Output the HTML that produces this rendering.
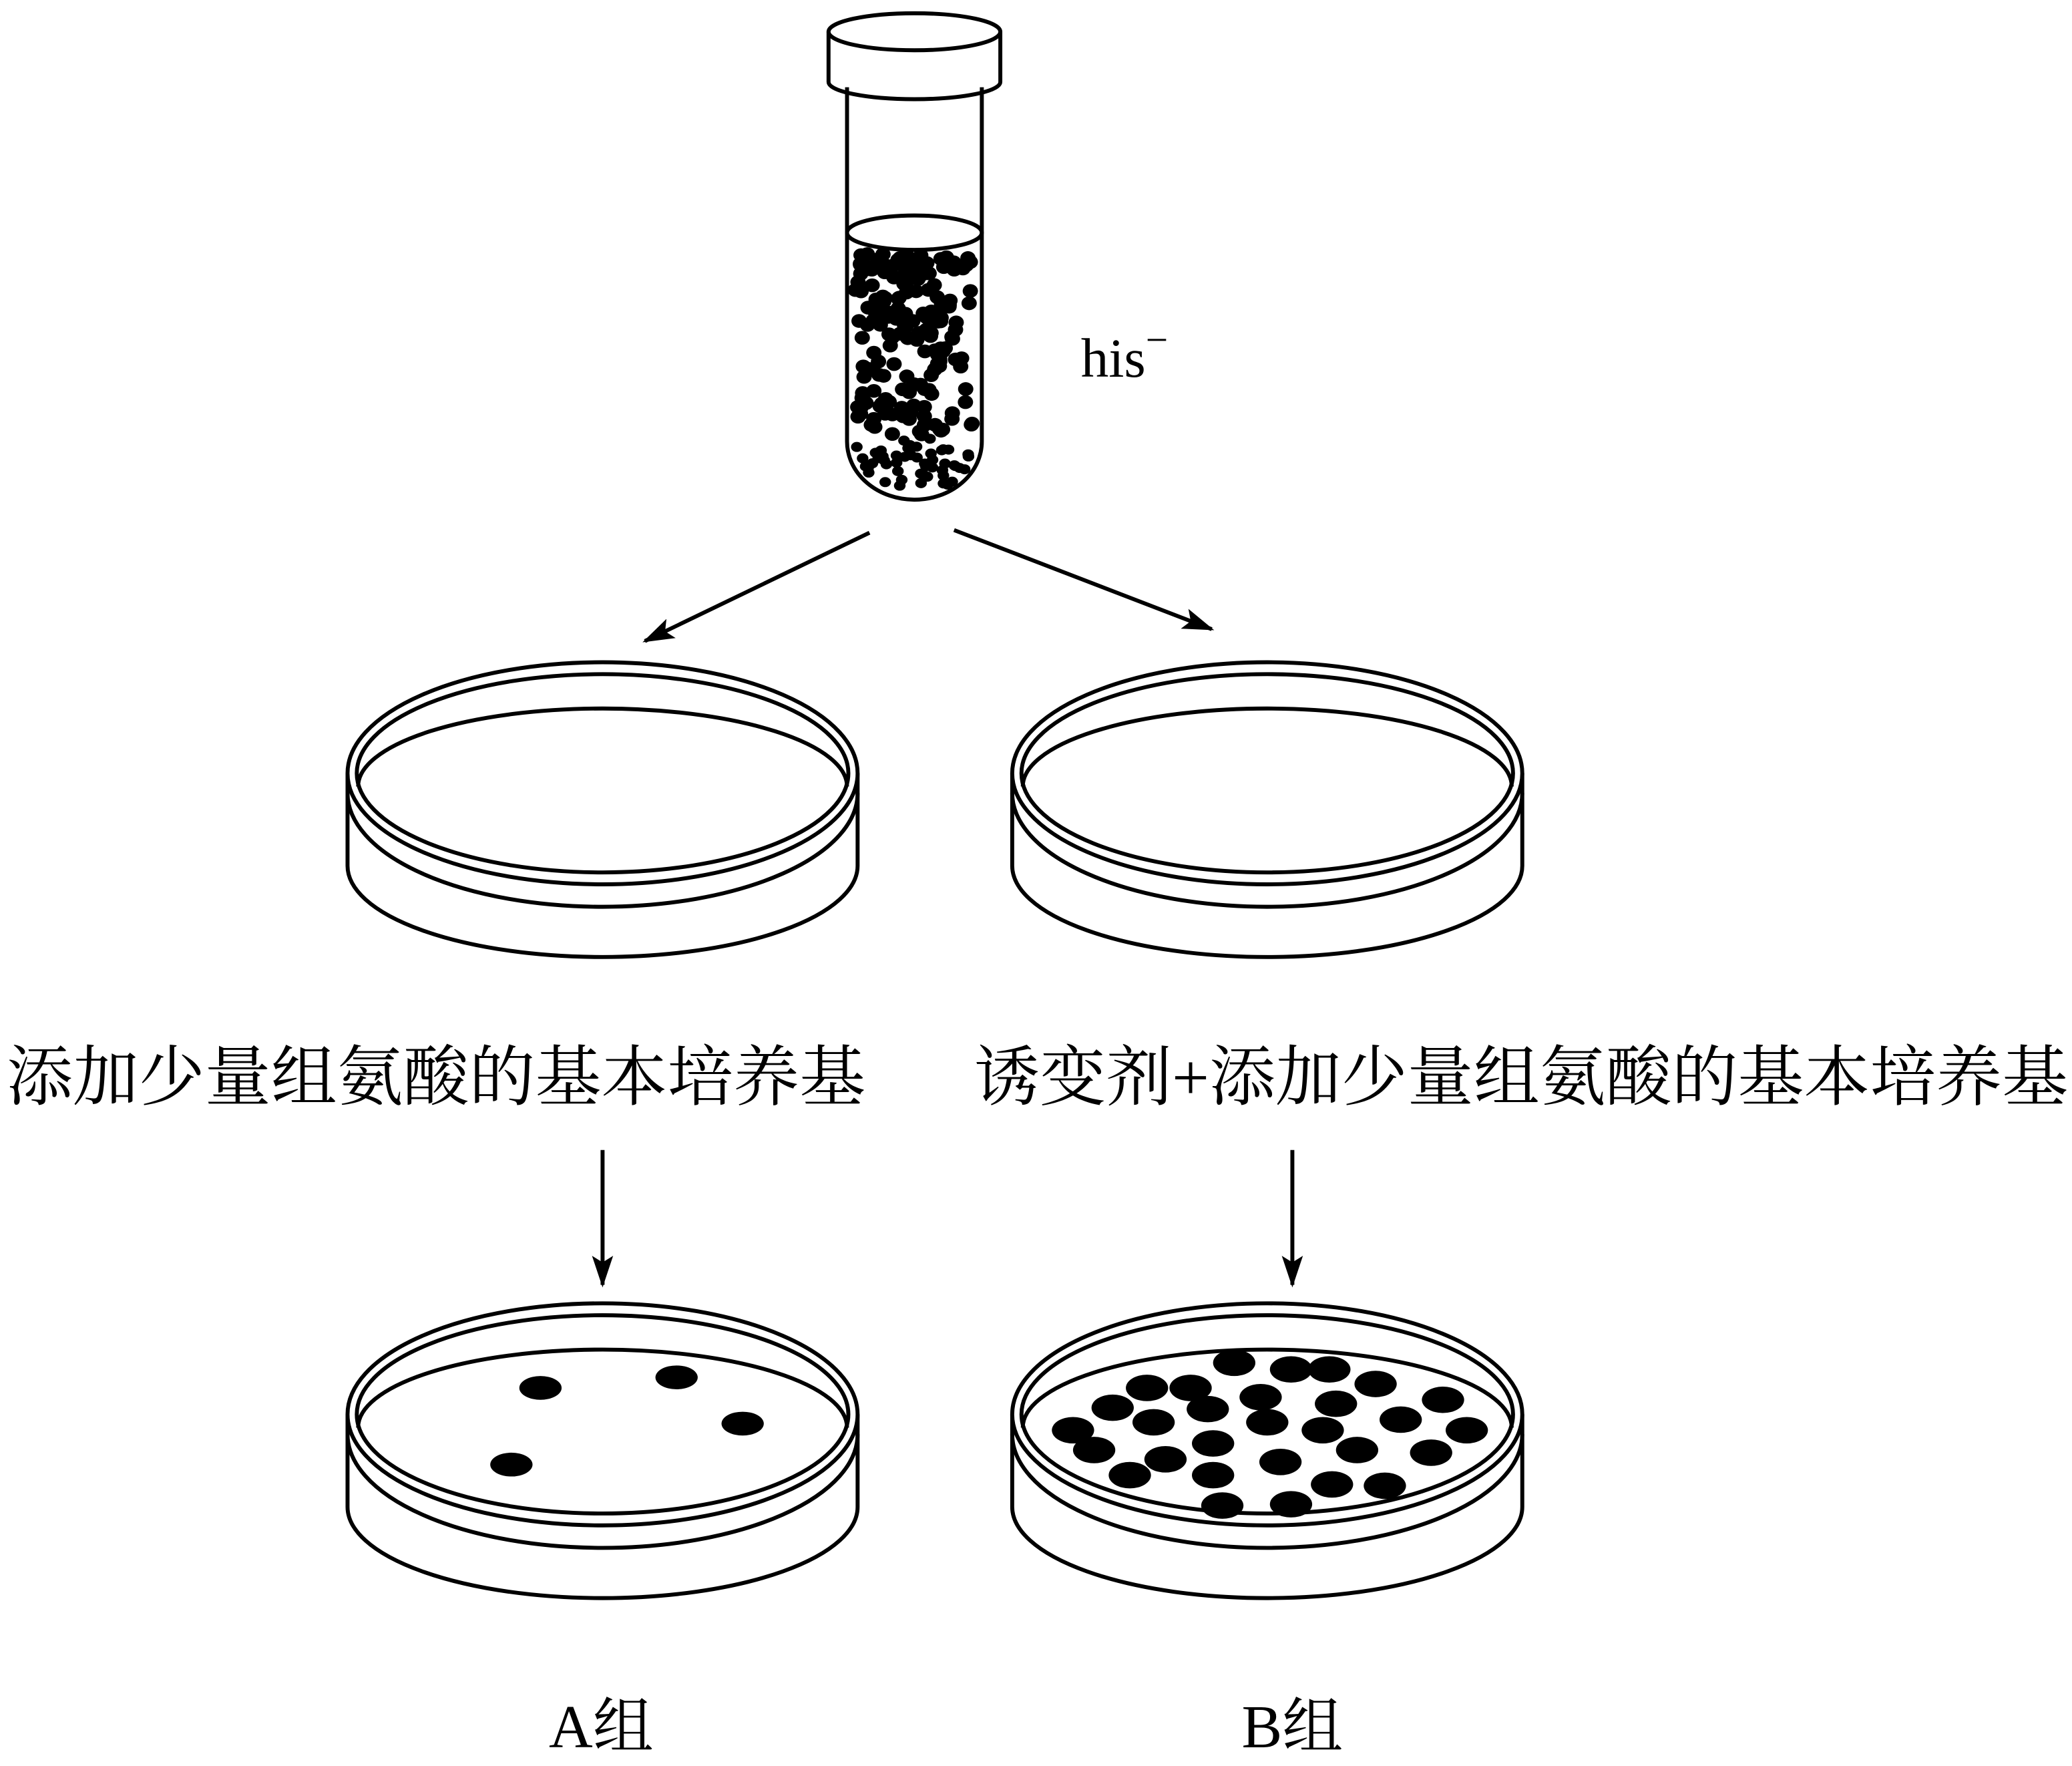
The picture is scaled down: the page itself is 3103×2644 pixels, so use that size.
<!DOCTYPE html>
<html><head><meta charset="utf-8"><style>
html,body{margin:0;padding:0;background:#fff;}
svg{display:block;}
text{font-family:"Liberation Serif","Noto Serif CJK SC",serif;fill:#000;}
</style></head><body>
<svg id="s" width="3103" height="2644" viewBox="0 0 1568 1336" xmlns="http://www.w3.org/2000/svg">
<defs>
<marker id="ah" markerWidth="24" markerHeight="18" refX="22" refY="8" orient="auto" markerUnits="userSpaceOnUse" viewBox="0 0 24 16">
<path d="M0,0 L24,8 L0,16 L5,8 Z" fill="#000"/>
</marker>
<g id="dish" fill="none" stroke="#000" stroke-width="3">
<path d="M-193,0 L-193,70 A193,69 0 0 0 193,70 L193,0"/>
<path d="M-193,15 A193,86 0 0 0 193,15"/>
<ellipse cx="0" cy="0" rx="193" ry="84" fill="#fff"/>
<ellipse cx="0" cy="0" rx="186" ry="75"/>
<path d="M-185,10 A185,59 0 0 1 185,10"/>
</g>
</defs>
<!-- test tube -->
<g fill="none" stroke="#000" stroke-width="3">
<path d="M641,66 L641,334 A51,44 0 0 0 743,334 L743,66"/>
<ellipse cx="692" cy="176" rx="51" ry="13"/>
<path d="M627,24 L627,62 A65,13 0 0 0 757,62 L757,24"/>
<ellipse cx="692" cy="24" rx="65" ry="14" fill="#fff"/>
</g>
<g id="dots" fill="#000"></g>
<text x="818" y="285" font-size="42">his<tspan font-size="30" dy="-18">−</tspan></text>
<!-- arrows -->
<g stroke="#000" stroke-width="3" fill="none">
<line x1="658" y1="403" x2="488" y2="485" marker-end="url(#ah)"/>
<line x1="722" y1="401" x2="917" y2="476" marker-end="url(#ah)"/>
<line x1="456" y1="870" x2="456" y2="972" marker-end="url(#ah)"/>
<line x1="978" y1="870" x2="978" y2="972" marker-end="url(#ah)"/>
</g>
<use href="#dish" x="456" y="585"/>
<use href="#dish" x="959" y="585"/>
<use href="#dish" x="456" y="1070"/>
<use href="#dish" x="959" y="1070"/>
<g fill="#000">
<ellipse cx="409" cy="1050" rx="16" ry="9"/><ellipse cx="512" cy="1042" rx="16" ry="9"/>
<ellipse cx="562" cy="1077" rx="16" ry="9"/><ellipse cx="387" cy="1108" rx="16" ry="9"/>
</g>
<g fill="#000" id="bc"></g>
<text x="330" y="832" font-size="50" text-anchor="middle">添加少量组氨酸的基本培养基</text>
<text x="1151" y="832" font-size="50" text-anchor="middle">诱变剂+添加少量组氨酸的基本培养基</text>
<text x="455" y="1322" font-size="46" text-anchor="middle">A组</text>
<text x="978" y="1322" font-size="46" text-anchor="middle">B组</text>
</svg>
<script>
var ns="http://www.w3.org/2000/svg";
var b=[[934,1031],[977,1036],[1006,1036],[868,1050],[901,1050],[842,1065],[954,1057],[1011,1062],[1041,1047],[1092,1059],[812,1082],[873,1076],[914,1066],[959,1076],[1001,1082],[1060,1074],[1110,1082],[828,1097],[882,1104],[918,1092],[969,1106],[1027,1097],[1083,1099],[855,1116],[918,1116],[1008,1123],[1048,1124],[925,1139],[977,1138]];
var g=document.getElementById("bc");
b.forEach(function(p){var e=document.createElementNS(ns,"ellipse");e.setAttribute("cx",p[0]);e.setAttribute("cy",p[1]);e.setAttribute("rx",16);e.setAttribute("ry",10);g.appendChild(e);});
var d=document.getElementById("dots");var s=12345;
function r(){s=(s*16807)%2147483647;return s/2147483647;}
for(var i=0;i<240;i++){
 var y=192+Math.pow(r(),1.15)*176, x;
 var hw=y>334?Math.sqrt(Math.max(0,1-Math.pow((y-334)/44,2)))*44:45;
 x=692+(r()*2-1)*hw;
 var rad=y>330?3.8:5.2;
 var c=document.createElementNS(ns,"ellipse");c.setAttribute("cx",x.toFixed(1));c.setAttribute("cy",y.toFixed(1));c.setAttribute("rx",rad+0.6);c.setAttribute("ry",rad);d.appendChild(c);
}
</script>
</body></html>
